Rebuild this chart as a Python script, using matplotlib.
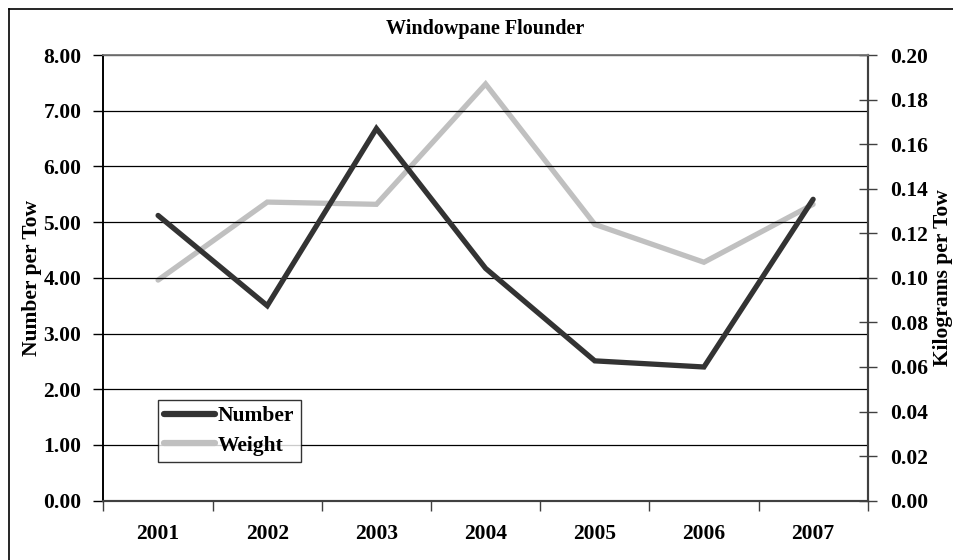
import matplotlib.pyplot as plt
from matplotlib.lines import Line2D

years = ['2001', '2002', '2003', '2004', '2005', '2006', '2007']
number_per_tow = [5.12, 3.50, 6.68, 4.17, 2.51, 2.40, 5.41]
kg_per_tow = [0.099, 0.134, 0.133, 0.187, 0.124, 0.107, 0.133]

plt.rcParams['font.family'] = ['Liberation Serif', 'DejaVu Serif']
plt.rcParams['font.weight'] = 'bold'

fs = 15.5

fig = plt.figure(figsize=(9.54, 5.6), dpi=100)
ax = fig.add_axes([103.5 / 954, 1 - 500.7 / 560, (867.7 - 103.5) / 954, (500.7 - 55) / 560])
ax2 = ax.twinx()

x = list(range(len(years)))
ax.plot(x, number_per_tow, color='#333333', lw=3.8, solid_capstyle='round', solid_joinstyle='miter', zorder=3)
ax2.plot(x, kg_per_tow, color='#c0c0c0', lw=3.8, solid_capstyle='round', solid_joinstyle='miter', zorder=2)
# number line drawn on top of weight line
ax.set_zorder(ax2.get_zorder() + 1)
ax.patch.set_visible(False)

ax.set_xlim(-0.5, 6.5)
ax.set_ylim(0, 8)
ax2.set_ylim(0, 0.2)

ax.set_yticks(range(0, 9))
ax.set_yticklabels(['%.2f' % v for v in range(0, 9)], fontsize=fs, fontweight='bold')
ax2.set_yticks([i * 0.02 for i in range(11)])
ax2.set_yticklabels(['%.2f' % (i * 0.02) for i in range(11)], fontsize=fs, fontweight='bold')

ax.set_xticks([i - 0.5 for i in range(8)])
ax.set_xticklabels([])
ax.set_xticks(x, minor=True)
ax.set_xticklabels(years, minor=True, fontsize=fs, fontweight='bold')
ax.tick_params(axis='x', which='major', direction='out', length=7, width=1, color='#404040')
ax.tick_params(axis='x', which='minor', length=0, pad=17)
ax.tick_params(axis='y', direction='out', length=7, width=1, pad=9)
ax2.tick_params(axis='y', direction='inout', length=13, width=1, color='#404040', pad=10)

ax.grid(axis='y', color='black', lw=0.9)
ax.set_axisbelow(True)
for a in (ax, ax2):
    a.spines['top'].set_color('#808080')
    a.spines['top'].set_linewidth(1.2)
    a.spines['bottom'].set_color('#404040')
    a.spines['bottom'].set_linewidth(1.5)
    a.spines['left'].set_color('black')
    a.spines['left'].set_linewidth(1.2)
    a.spines['right'].set_color('#404040')
    a.spines['right'].set_linewidth(1.5)

ax.set_ylabel('Number per Tow', fontsize=fs, fontweight='bold', labelpad=1)
ax2.set_ylabel('Kilograms per Tow', fontsize=fs, fontweight='bold', labelpad=3)
ax.set_title('Windowpane Flounder', fontsize=14.5, fontweight='bold', pad=15)

handles = [Line2D([], [], color='#333333', lw=4.5, solid_capstyle='round'),
           Line2D([], [], color='#c0c0c0', lw=4.5, solid_capstyle='round')]
leg = ax.legend(handles, ['Number', 'Weight'], loc='lower left',
                bbox_to_anchor=((157.7 - 103.5) / 764.2, (500.7 - 462.3) / 445.7),
                prop={'size': fs, 'weight': 'bold'}, frameon=True, fancybox=False,
                handlelength=2.35, handletextpad=0.15, borderpad=0.3, labelspacing=0.45,
                borderaxespad=0)
leg.get_frame().set_edgecolor('black')
leg.get_frame().set_linewidth(1.0)

# outer chart frame (left and top edges visible)
fig.add_artist(Line2D([9 / 954, 9 / 954], [0, 1 - 9 / 560], transform=fig.transFigure, color='black', lw=1.2))
fig.add_artist(Line2D([9 / 954, 1], [1 - 9 / 560, 1 - 9 / 560], transform=fig.transFigure, color='black', lw=1.2))

fig.savefig('out.png', dpi=100)
